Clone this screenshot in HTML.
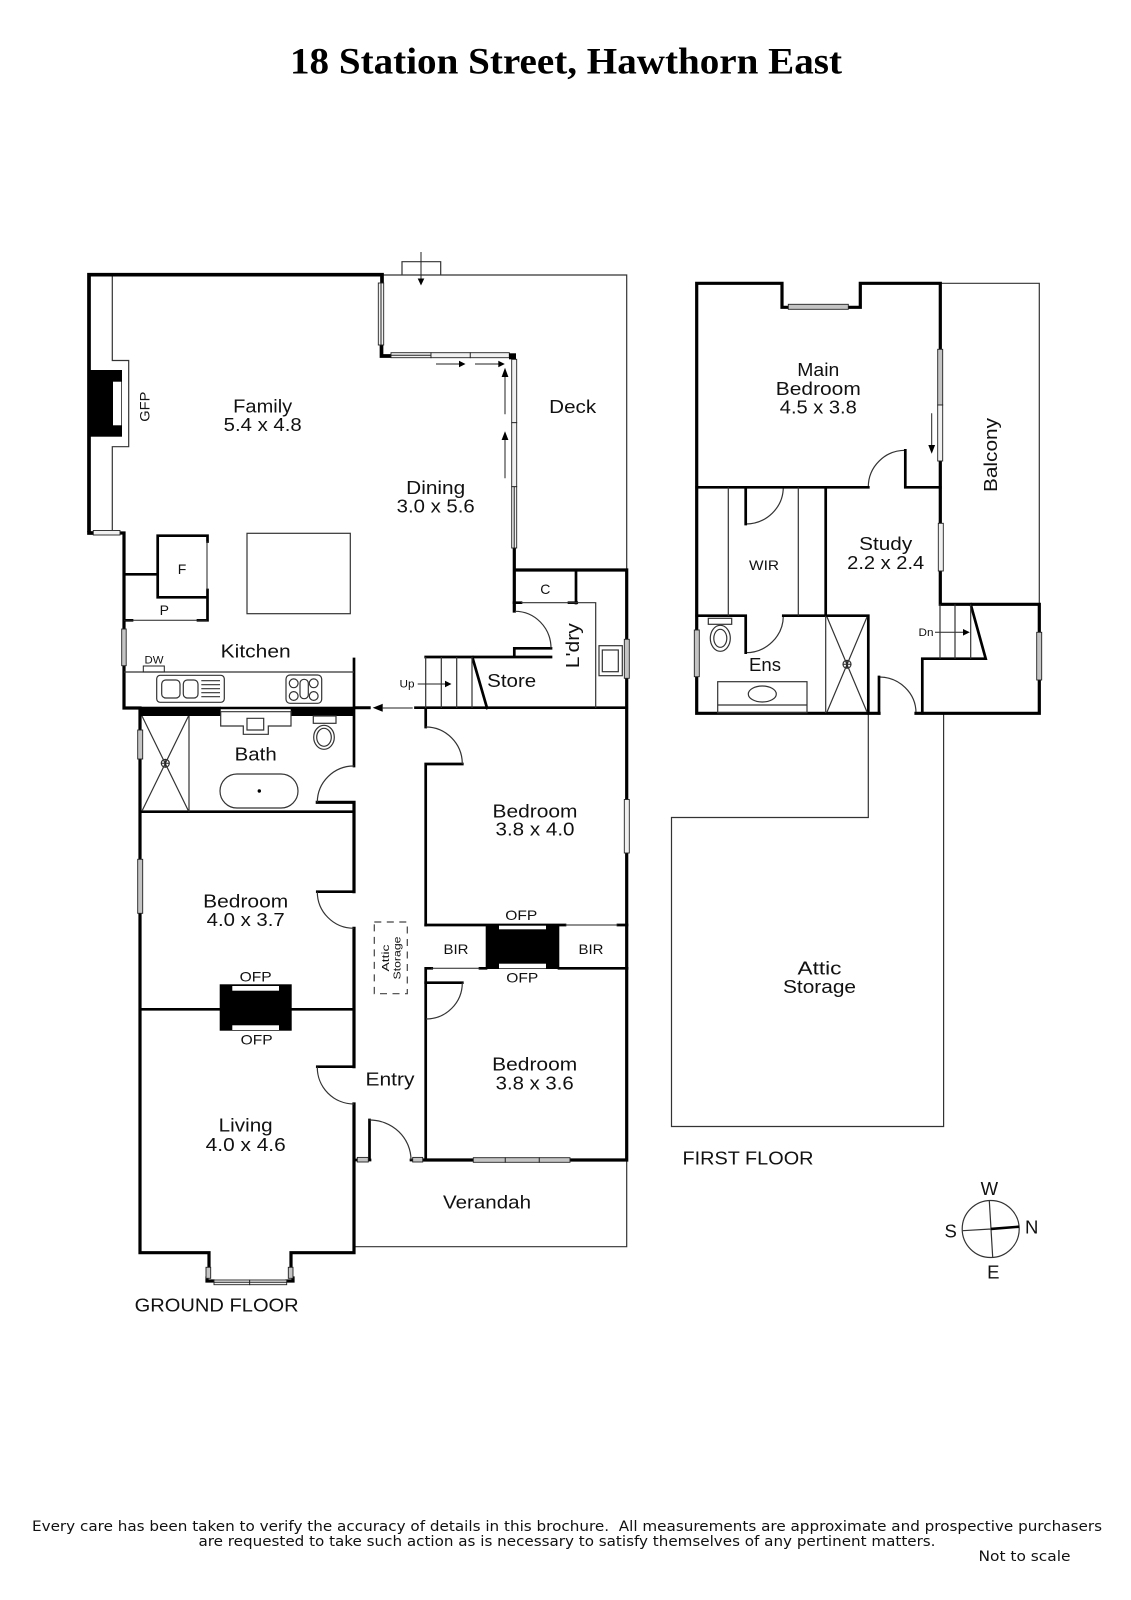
<!DOCTYPE html>
<html lang="en"><head><meta charset="utf-8"><title>18 Station Street, Hawthorn East</title>
<style>
html,body{margin:0;padding:0;background:#fff}
svg{display:block}
text{font-family:"Liberation Sans","DejaVu Sans",sans-serif;font-size:18.5px;fill:#111;text-anchor:middle}
.t{font-family:"Liberation Serif",serif;font-weight:bold;font-size:37px;fill:#000}
.s{font-size:14px}.xs{font-size:11px}.a{font-size:10.5px}
.f{font-family:"DejaVu Sans",sans-serif;font-size:14px}
.w{fill:none;stroke:#000;stroke-width:3.2;stroke-linecap:square;stroke-linejoin:miter}
.o{fill:none;stroke:#000;stroke-width:3.7;stroke-linecap:square;stroke-linejoin:miter}
.i{fill:none;stroke:#000;stroke-width:2.7;stroke-linecap:square;stroke-linejoin:miter}
.n{fill:none;stroke:#222;stroke-width:1}
.g{fill:none;stroke:#333;stroke-width:1.2}
.win{fill:#c4c4c4;stroke:#222;stroke-width:.9}
.wh{fill:#f0f0f0;stroke:#222;stroke-width:.9}
</style></head><body>
<svg xmlns="http://www.w3.org/2000/svg" width="1131" height="1600" viewBox="0 0 1131 1600">
<rect width="1131" height="1600" fill="#fff"/>
<text class="t" x="566" y="73.5" textLength="552" lengthAdjust="spacingAndGlyphs">18 Station Street, Hawthorn East</text>

<!-- thin outlines -->
<path class="g" d="M383 275H626.7V570M626.7 1160V1246.7H355M402 275V261.7H440.7V275"/>
<path class="g" d="M112.3 275V360.5H128.7V446.7H112.3V530"/>
<path class="g" d="M868.3 713V817.5H671.5V1126.5H943.6V713"/>
<path class="g" d="M940.3 283.3H1039.3V604"/>

<!-- ground floor walls -->
<path class="o" d="M89 530V274.7H382V283M381.5 345V356H391"/>
<path class="o" d="M93 533H89"/>
<path class="w" d="M120 533H124V708H140V1252.7H209V1267M291 1267V1252.7H354V1104M354 1066.7V928.3M354 891.7V802.3H317.3"/>
<path class="i" d="M354 766V659"/>
<path class="i" d="M140 811.7H354M140 1009.3H220M291 1009.3H354M317.3 891.7H354M317.3 1066.7H354"/>
<path class="w" d="M207 1278V1281H213M287 1281H293V1278"/>
<!-- fireplace -->
<rect x="89" y="370" width="33" height="66.7" fill="#000"/>
<rect x="113" y="381.7" width="8.3" height="43.6" fill="#fff"/>
<!-- fridge/pantry -->
<path class="i" d="M207.5 541.5V535.7H157.7V597.3H207.5V620.3H198M124 574.3H157.7M124 620.3H132M207.5 590V597"/>
<path class="n" d="M207 541V590M124 620.3H207"/>
<rect x="247" y="533.3" width="103.3" height="80.4" class="g"/>
<!-- kitchen bench -->
<path class="g" d="M124 672H354"/>
<rect x="143.3" y="666" width="21" height="6" class="n"/>
<rect x="156.7" y="675.3" width="67.6" height="27" rx="3.5" class="g"/>
<rect x="161.7" y="680" width="18.3" height="18" rx="4" class="g"/>
<rect x="183.3" y="680" width="14.7" height="18" rx="4" class="g"/>
<path class="g" d="M201.3 680.7H220M201.3 684.7H220M201.3 688.7H220M201.3 692.7H220M201.3 696.7H220"/>
<rect x="286" y="675" width="35.7" height="28.3" rx="4" class="g"/>
<circle cx="293.7" cy="683.3" r="4.4" class="g"/><circle cx="313.7" cy="683.3" r="4.4" class="g"/>
<circle cx="293.7" cy="696" r="4.4" class="g"/><circle cx="313.7" cy="696" r="4.4" class="g"/>
<rect x="300" y="679.3" width="8.3" height="19.4" rx="4" class="g"/>
<!-- black band -->
<rect x="139.3" y="706.7" width="81.4" height="9.3" fill="#000"/>
<rect x="290.7" y="706.7" width="63.3" height="9.3" fill="#000"/>
<path d="M220 708H291" stroke="#000" stroke-width="2.6"/>
<path d="M354 707.7H370.7" stroke="#000" stroke-width="3"/>
<polygon points="372.7,707.8 382.7,703.8 382.7,711.8" fill="#000"/>
<path class="n" d="M382 708H412.7"/>
<path class="i" d="M415.5 707.7H626.7"/>
<!-- vanity -->
<path class="g" d="M220.7 711.7V726H243.3V734.3H268.3V726H291V711.7ZM247 718.3H263.7V730H247Z"/>
<rect x="313.3" y="716" width="22.7" height="7.3" class="g"/>
<ellipse cx="324" cy="737.3" rx="10.3" ry="12" class="g"/><ellipse cx="324" cy="737.3" rx="7.3" ry="9" class="g"/>
<!-- shower -->
<path class="g" d="M189 716V811.7M142 716L188.5 811M188.5 716L142 811"/>
<circle cx="165.3" cy="763.3" r="4" class="g" fill="#fff"/><path class="n" d="M161.3 763.3H169.3M165.3 759.3V767.3"/>
<!-- bath -->
<rect x="220" y="774" width="78" height="34" rx="17" class="g"/><circle cx="259.3" cy="791" r="1.7" fill="#000"/>
<!-- right side walls -->
<path class="i" d="M425.7 708V727M425.7 764V925M425.7 764H462.3M425.7 982.7V1019V1160M425.7 982.7H462.3"/>
<path class="i" d="M425.7 968.3V982.7M425.7 925H565M618 925H627M559 968.3H627M480 968.3H486M426 968.3H431.7"/>
<path class="n" d="M565 925H618M431 968.3H480"/>
<path class="w" d="M626.7 570V1160H424M514.3 548V611M514.3 570H626.7"/>
<path class="i" d="M576 570V603M514 602.7H521M569 602.7H576.7"/>
<path class="g" d="M521 602.7H595.7V708"/>
<path class="i" d="M515 648.3H551M514.3 648.3V657M425.7 657H551M472.3 657L487 708"/>
<path class="g" d="M425.7 657V708M441.3 657V708M456.7 657V708M472 657V708"/>
<rect x="599" y="645.7" width="23.3" height="30" class="g"/><rect x="602.3" y="650" width="16" height="21.7" class="g"/>
<!-- fireplaces -->
<rect x="219.7" y="984.3" width="72" height="46.4" fill="#000"/>
<rect x="232.3" y="986" width="46.7" height="4.7" fill="#fff"/><rect x="232.3" y="1025.3" width="46.7" height="4.7" fill="#fff"/>
<rect x="485.7" y="925" width="73.6" height="44" fill="#000"/>
<rect x="499" y="925.7" width="47" height="3.6" fill="#fff"/><rect x="499" y="963.7" width="47" height="4.6" fill="#fff"/>
<!-- attic dashed -->
<rect x="374.3" y="922" width="33" height="71.7" fill="none" stroke="#444" stroke-width="1.2" stroke-dasharray="7 5.5"/>
<!-- entry -->
<path class="i" d="M369.5 1120V1160M354 1160H357M368 1160H370M411 1160H413M423 1160H426"/>
<!-- doors -->
<path class="g" d="M354 766A36.5 36.5 0 0 0 317.3 802.3M317.3 891.7A36.6 36.6 0 0 0 353.7 928.3M317.3 1066.7A36.7 36.7 0 0 0 354 1104M369.5 1120A41.5 40 0 0 1 411 1160M462.3 982.7A36.3 36.3 0 0 1 426 1019M425.7 727A36.6 37 0 0 1 462.3 764M515 611.3A36 37 0 0 1 551 648.3M905.3 450.3A37 36.7 0 0 0 868.3 487M745.7 524A37.6 37 0 0 0 783.3 487M745.7 652.7A37.6 37 0 0 0 783.3 615.7M879 677A37 36 0 0 1 916 713"/>
<!-- ground windows -->
<rect class="wh" x="93.3" y="530.5" width="26.7" height="4.5"/>
<rect class="wh" x="378.3" y="283" width="5.4" height="62"/>
<g class="wh"><rect x="391" y="352.7" width="40" height="5"/><rect x="431" y="352.7" width="39.3" height="5"/><rect x="470.3" y="352.7" width="39" height="5"/>
<rect x="511.7" y="359.3" width="5" height="63.4"/><rect x="511.7" y="422.7" width="5" height="64"/><rect x="511.7" y="486.7" width="5" height="61.3"/></g>
<rect x="509" y="353.3" width="7" height="6" fill="#000"/>
<path class="n" d="M391 355.3H431M514.2 486.7V548M381 283V345M214 1282.3H286.7M627 799.5V853"/>
<rect class="win" x="121.7" y="629" width="4.5" height="36.7"/>
<rect class="win" x="137.7" y="730" width="5" height="29"/>
<rect class="win" x="137.7" y="859.3" width="5" height="54"/>
<rect class="win" x="624.3" y="639.3" width="5" height="39"/>
<rect class="wh" x="624.3" y="799.5" width="5" height="53.5"/>
<g class="win"><rect x="473.3" y="1157.7" width="32" height="4.6"/><rect x="505.3" y="1157.7" width="34" height="4.6"/><rect x="539.3" y="1157.7" width="30.7" height="4.6"/>
<rect x="357.3" y="1157.4" width="11" height="4.6"/><rect x="412.7" y="1157.4" width="10" height="4.6"/>
<rect x="206" y="1267.3" width="4.7" height="11"/><rect x="288.3" y="1267.3" width="4.7" height="11"/></g>
<g class="wh"><rect x="214" y="1280" width="35.7" height="4.7"/><rect x="249.7" y="1280" width="37" height="4.7"/></g>
<path class="n" d="M214 1282.3H286.7"/>
<!-- arrows -->
<path class="n" d="M421 252V280M436 364H460M475 364H499M505 414.3V375M505 478.3V438M417.7 684H446M931.7 413.3V446M935 632.3H964"/>
<polygon points="421,285.5 417.7,278.5 424.3,278.5" fill="#000"/>
<polygon points="465.5,364 459,360.8 459,367.2" fill="#000"/><polygon points="504.8,364 498.3,360.8 498.3,367.2" fill="#000"/>
<polygon points="505,367.8 501.6,377 508.4,377" fill="#000"/><polygon points="505,431.2 501.6,440 508.4,440" fill="#000"/>
<polygon points="451.5,684 445,680.8 445,687.2" fill="#000"/><polygon points="931.7,453.8 928.3,445 935.1,445" fill="#000"/>
<polygon points="969.8,632.3 963,629 963,635.6" fill="#000"/>

<!-- first floor walls -->
<path class="w" d="M696.7 713.3V283.3H782V307.3H788M848 307.3H860.3V283.3H940.3V349M940.3 461V523M940.3 571V604.3H1039.3V632M1039.3 680V713.3H916M879 713.3H696.7"/>
<path class="i" d="M696.7 487.3H868.3M905.3 450.3V487.3H940.3M696.7 615.7H745.7V652.7M745.7 487.3V524M783.3 615.7H868.3V713.3M825.7 487.3V615.7M970.7 604.3L985.7 658.7H922.3V713.3M879 677V713.3"/>
<path class="g" d="M728.3 487.3V615.7M798.3 487.3V615.7M825.7 615.7V713M940 604.3V658.7M955 604.3V658.7M970.7 604.3V658.7M827 617L867 712M867 617L827 712"/>
<circle cx="847" cy="664.3" r="4" class="g" fill="#fff"/><path class="n" d="M843 664.3H851M847 660.3V668.3"/>
<rect x="717.7" y="681.7" width="89.3" height="31" class="g"/><path class="g" d="M717.7 705H807"/>
<ellipse cx="762.3" cy="694" rx="14" ry="8" class="g"/>
<rect x="708.3" y="618.3" width="23.4" height="6" class="g"/>
<ellipse cx="720.3" cy="638.3" rx="10" ry="13" class="g"/><ellipse cx="720.3" cy="638.3" rx="6.5" ry="9" class="g"/>
<rect class="win" x="788.3" y="304.3" width="60" height="5"/>
<rect class="win" x="937.7" y="349.3" width="5" height="55.7"/><rect class="wh" x="937.7" y="405" width="5" height="56"/>
<rect class="wh" x="938.3" y="523.3" width="5" height="47.7"/>
<rect class="win" x="694.3" y="630" width="5" height="46.7"/><rect class="win" x="1036.7" y="632.3" width="5" height="47.7"/>

<!-- compass -->
<circle cx="990.7" cy="1229" r="28.5" class="g"/>
<path class="g" d="M989.3 1200.7L992.7 1257.3M962.7 1230.7L991 1229"/>
<path d="M991 1228.9L1019.3 1226.7" stroke="#000" stroke-width="2.6"/>

<!-- labels -->
<text x="262.7" y="412.7" textLength="59" lengthAdjust="spacingAndGlyphs">Family</text>
<text x="262.7" y="431" textLength="78" lengthAdjust="spacingAndGlyphs">5.4 x 4.8</text>
<text x="435.7" y="494" textLength="59" lengthAdjust="spacingAndGlyphs">Dining</text>
<text x="435.7" y="512.7" textLength="78" lengthAdjust="spacingAndGlyphs">3.0 x 5.6</text>
<text x="572.7" y="413" textLength="47" lengthAdjust="spacingAndGlyphs">Deck</text>
<text class="s" transform="translate(149.5 406.7) rotate(-90)" textLength="30" lengthAdjust="spacingAndGlyphs">GFP</text>
<text class="s" x="182" y="574">F</text><text class="s" x="164.3" y="615">P</text>
<text x="255.7" y="657.3" textLength="70" lengthAdjust="spacingAndGlyphs">Kitchen</text>
<text class="xs" x="154" y="663.7" textLength="19" lengthAdjust="spacingAndGlyphs">DW</text>
<text x="255.7" y="760.7" textLength="42" lengthAdjust="spacingAndGlyphs">Bath</text>
<text class="s" x="545.3" y="594">C</text>
<text transform="translate(579 645.7) rotate(-90)" textLength="45" lengthAdjust="spacingAndGlyphs">L'dry</text>
<text x="511.7" y="687" textLength="49" lengthAdjust="spacingAndGlyphs">Store</text>
<text class="xs" x="407" y="687.7" textLength="15" lengthAdjust="spacingAndGlyphs">Up</text>
<text x="535" y="817.3" textLength="85" lengthAdjust="spacingAndGlyphs">Bedroom</text>
<text x="535" y="835.7" textLength="79" lengthAdjust="spacingAndGlyphs">3.8 x 4.0</text>
<text x="245.7" y="907.3" textLength="85" lengthAdjust="spacingAndGlyphs">Bedroom</text>
<text x="245.7" y="926" textLength="78" lengthAdjust="spacingAndGlyphs">4.0 x 3.7</text>
<text class="s" x="255.7" y="981.7" textLength="32" lengthAdjust="spacingAndGlyphs">OFP</text>
<text class="s" x="256.7" y="1044.3" textLength="32" lengthAdjust="spacingAndGlyphs">OFP</text>
<text class="s" x="521.3" y="920" textLength="32" lengthAdjust="spacingAndGlyphs">OFP</text>
<text class="s" x="522.3" y="982.7" textLength="32" lengthAdjust="spacingAndGlyphs">OFP</text>
<text class="s" x="456" y="954" textLength="25" lengthAdjust="spacingAndGlyphs">BIR</text>
<text class="s" x="591" y="954" textLength="25" lengthAdjust="spacingAndGlyphs">BIR</text>
<text class="a" transform="translate(389 958) rotate(-90)" textLength="27" lengthAdjust="spacingAndGlyphs">Attic</text>
<text class="a" transform="translate(400.5 958) rotate(-90)" textLength="43" lengthAdjust="spacingAndGlyphs">Storage</text>
<text x="390" y="1085.7" textLength="49" lengthAdjust="spacingAndGlyphs">Entry</text>
<text x="534.7" y="1070.7" textLength="85" lengthAdjust="spacingAndGlyphs">Bedroom</text>
<text x="534.7" y="1089.3" textLength="78" lengthAdjust="spacingAndGlyphs">3.8 x 3.6</text>
<text x="245.7" y="1131.5" textLength="54" lengthAdjust="spacingAndGlyphs">Living</text>
<text x="245.7" y="1151" textLength="80" lengthAdjust="spacingAndGlyphs">4.0 x 4.6</text>
<text x="487" y="1208.5" textLength="88" lengthAdjust="spacingAndGlyphs">Verandah</text>
<text x="216.7" y="1311.7" textLength="164" lengthAdjust="spacingAndGlyphs">GROUND FLOOR</text>
<text x="818.3" y="376" textLength="42" lengthAdjust="spacingAndGlyphs">Main</text>
<text x="818.3" y="395" textLength="85" lengthAdjust="spacingAndGlyphs">Bedroom</text>
<text x="818.3" y="413.7" textLength="77" lengthAdjust="spacingAndGlyphs">4.5 x 3.8</text>
<text transform="translate(997 455) rotate(-90)" textLength="74" lengthAdjust="spacingAndGlyphs">Balcony</text>
<text class="s" x="764" y="570" textLength="30" lengthAdjust="spacingAndGlyphs">WIR</text>
<text x="885.7" y="550" textLength="53" lengthAdjust="spacingAndGlyphs">Study</text>
<text x="885.7" y="569" textLength="77" lengthAdjust="spacingAndGlyphs">2.2 x 2.4</text>
<text x="765" y="671" textLength="32" lengthAdjust="spacingAndGlyphs">Ens</text>
<text class="xs" x="926" y="636" textLength="15" lengthAdjust="spacingAndGlyphs">Dn</text>
<text x="819.5" y="974.5" textLength="44" lengthAdjust="spacingAndGlyphs">Attic</text>
<text x="819.5" y="993" textLength="73" lengthAdjust="spacingAndGlyphs">Storage</text>
<text x="748" y="1164.5" textLength="131" lengthAdjust="spacingAndGlyphs">FIRST FLOOR</text>
<text x="989.3" y="1195">W</text><text x="1031.7" y="1233.3">N</text><text x="950.7" y="1237.3">S</text><text x="993.3" y="1278.3">E</text>
<text class="f" x="567" y="1531" textLength="1070" lengthAdjust="spacingAndGlyphs">Every care has been taken to verify the accuracy of details in this brochure.&#160; All measurements are approximate and prospective purchasers</text>
<text class="f" x="567" y="1546" textLength="737" lengthAdjust="spacingAndGlyphs">are requested to take such action as is necessary to satisfy themselves of any pertinent matters.</text>
<text class="f" x="1024.5" y="1561" textLength="92" lengthAdjust="spacingAndGlyphs">Not to scale</text>
</svg>
</body></html>
